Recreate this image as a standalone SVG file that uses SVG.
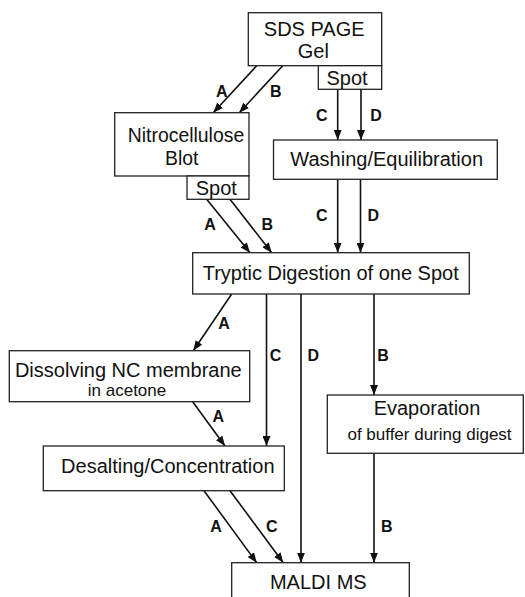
<svg xmlns="http://www.w3.org/2000/svg" width="525" height="597" viewBox="0 0 525 597">
<style>
.box{fill:#fff;stroke:#222;stroke-width:1.3}
.t{font-family:"Liberation Sans",Arial,sans-serif;font-size:20px;fill:#111;text-anchor:middle}
.s{font-family:"Liberation Sans",Arial,sans-serif;font-size:17px;fill:#111;text-anchor:middle}
.l{font-family:"Liberation Sans",Arial,sans-serif;font-size:16px;font-weight:bold;fill:#111;text-anchor:middle}
.c{stroke:#111;stroke-width:1.6;fill:none;marker-end:url(#ah)}
</style>
<defs>
<marker id="ah" markerUnits="userSpaceOnUse" markerWidth="10" markerHeight="8" refX="10" refY="4" orient="auto">
<path d="M0,0 L10,4 L0,8 z" fill="#111"/>
</marker>
</defs>
<rect width="525" height="597" fill="#fff"/>
<g id="connectors">
<line class="c" x1="256.7" y1="65.7" x2="213.3" y2="112.7"/>
<line class="c" x1="282.7" y1="65.7" x2="239.3" y2="112.7"/>
<line class="c" x1="337.7" y1="89.3" x2="337.7" y2="140"/>
<line class="c" x1="361" y1="89.3" x2="361" y2="140"/>
<line class="c" x1="206.7" y1="199.3" x2="250" y2="252.7"/>
<line class="c" x1="230" y1="199.3" x2="271.7" y2="252.7"/>
<line class="c" x1="337.7" y1="179.3" x2="337.7" y2="252.7"/>
<line class="c" x1="360.5" y1="179.3" x2="360.5" y2="252.7"/>
<line class="c" x1="231.7" y1="294" x2="193.3" y2="350.7"/>
<line class="c" x1="266.5" y1="294" x2="266.5" y2="446"/>
<line class="c" x1="301" y1="294" x2="301" y2="562.7"/>
<line class="c" x1="374" y1="294" x2="374" y2="395"/>
<line class="c" x1="192.7" y1="401.7" x2="225" y2="446"/>
<line class="c" x1="204" y1="490.7" x2="256.7" y2="562.7"/>
<line class="c" x1="230" y1="490.7" x2="283.3" y2="562.7"/>
<line class="c" x1="374" y1="453.3" x2="374" y2="562.7"/>
<text class="l" x="221.7" y="96.5">A</text>
<text class="l" x="275.7" y="96.5">B</text>
<text class="l" x="321.7" y="121">C</text>
<text class="l" x="376" y="121">D</text>
<text class="l" x="210" y="229.7">A</text>
<text class="l" x="267.3" y="229.7">B</text>
<text class="l" x="321.7" y="221">C</text>
<text class="l" x="373.3" y="221">D</text>
<text class="l" x="224" y="328.5">A</text>
<text class="l" x="275.5" y="360.7">C</text>
<text class="l" x="313.3" y="360.7">D</text>
<text class="l" x="383" y="360.7">B</text>
<text class="l" x="218.3" y="421.7">A</text>
<text class="l" x="216" y="532.4">A</text>
<text class="l" x="271.7" y="532.4">C</text>
<text class="l" x="386.7" y="532.4">B</text>
</g>
<g id="sds">
<rect class="box" x="248.3" y="12.7" width="133.4" height="53"/>
<text class="t" x="314.2" y="36">SDS PAGE</text>
<text class="t" x="313.3" y="58.3">Gel</text>
</g>
<g id="sds-spot">
<rect class="box" x="318.3" y="65.7" width="63.4" height="23.6"/>
<text class="t" x="347" y="84.5">Spot</text>
</g>
<g id="nitro">
<rect class="box" x="114.7" y="112.7" width="134.3" height="63.3"/>
<text class="t" x="186" y="141.7" style="font-size:19.4px">Nitrocellulose</text>
<text class="t" x="181.7" y="165" style="font-size:19.4px">Blot</text>
</g>
<g id="nitro-spot">
<rect class="box" x="187" y="176" width="62" height="23.3"/>
<text class="t" x="216.3" y="194.5">Spot</text>
</g>
<g id="washing">
<rect class="box" x="273.5" y="140" width="223.8" height="39.3"/>
<text class="t" x="386.7" y="166">Washing/Equilibration</text>
</g>
<g id="tryptic">
<rect class="box" x="192.7" y="252.7" width="276.6" height="41.3"/>
<text class="t" x="330.7" y="280">Tryptic Digestion of one Spot</text>
</g>
<g id="dissolving">
<rect class="box" x="9.3" y="350.7" width="240.4" height="51"/>
<text class="t" x="128.3" y="376.7">Dissolving NC membrane</text>
<text class="s" x="127" y="396">in acetone</text>
</g>
<g id="evaporation">
<rect class="box" x="327.3" y="395" width="196" height="58.3"/>
<text class="t" x="427" y="414.5">Evaporation</text>
<text class="s" x="429.5" y="440">of buffer during digest</text>
</g>
<g id="desalting">
<rect class="box" x="43.3" y="446" width="241" height="44.7"/>
<text class="t" x="167.8" y="473.3">Desalting/Concentration</text>
</g>
<g id="maldi">
<rect class="box" x="231.7" y="562.7" width="177.6" height="40"/>
<text class="t" x="318.3" y="588.5">MALDI MS</text>
</g>
</svg>
